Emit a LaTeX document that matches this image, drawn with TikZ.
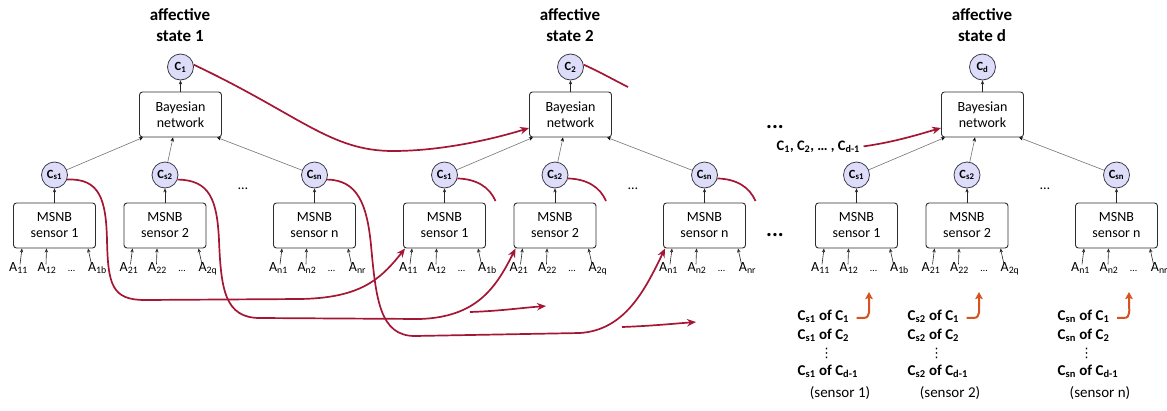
\documentclass[tikz,border=0pt]{standalone}
\usepackage{fontspec}
\setmainfont{Carlito}
\newfontfamily\symfont{DejaVu Sans}
\usetikzlibrary{arrows.meta,calc}
\definecolor{crim}{RGB}{165,22,52}
\definecolor{orng}{RGB}{214,82,30}
\definecolor{lav}{RGB}{221,221,250}
\definecolor{rimc}{RGB}{60,60,72}
\definecolor{edgec}{RGB}{45,45,45}
\definecolor{linkc}{RGB}{115,115,115}
\newcommand{\lowidx}[1]{\textsubscript{#1}}
\begin{document}
\begin{tikzpicture}[x=1pt,y=-1pt,
  ttl/.style={font=\bfseries\fontsize{17}{20}\selectfont, anchor=base, inner sep=0pt},
  cnode/.style={circle, draw=rimc, fill=lav, line width=0.8pt, minimum size=26pt,
    inner sep=0pt, font=\bfseries\fontsize{12.5}{14}\selectfont},
  stbox/.style={draw=edgec, line width=0.9pt, rounded corners=3pt, minimum width=82pt,
    minimum height=45pt, align=center, inner sep=1pt, font=\fontsize{14}{16}\selectfont},
  alab/.style={anchor=base, inner sep=0.5pt, font=\fontsize{14}{16}\selectfont},
  adots/.style={anchor=base, inner sep=0pt, font=\fontsize{10}{12}\selectfont},
  sdots/.style={anchor=base, inner sep=0pt, font=\fontsize{14}{16}\selectfont},
  bigdots/.style={anchor=base, inner sep=0pt, font=\bfseries\fontsize{22}{22}\selectfont},
  btext/.style={anchor=base west, inner sep=0.5pt, font=\bfseries\fontsize{15}{17}\selectfont},
  ptext/.style={anchor=base, inner sep=0.5pt, font=\fontsize{15}{17}\selectfont},
  vd/.style={anchor=base, inner sep=0pt, font=\symfont\fontsize{13}{15}\selectfont},
  thinarr/.style={draw=black!85, line width=0.6pt, -{Stealth[length=4pt,width=3.4pt]}},
  linkarr/.style={draw=linkc, line width=0.6pt, -{Stealth[length=4pt,width=3.4pt,black]}},
  redline/.style={draw=crim, line width=1.7pt},
  redarr/.style={redline, -{Stealth[length=9pt,width=7.5pt]}},
  orarr/.style={draw=orng, line width=2pt, -{Stealth[length=7pt,width=7.5pt,inset=1.2pt]}}
]
\useasboundingbox (0,0) rectangle (1167,410);

% three copies of the network: affective states 1, 2 and d
\foreach \g/\ox/\cl in {1/0/1,2/390/2,3/802/d}{
  \node[ttl] (ta\g) at (180+\ox,20) {affective};
  \node[ttl] (tb\g) at (180+\ox,41) {state \cl};
  \node[cnode] (c\g) at (180.5+\ox,67) {C\lowidx{\cl}};
  \node[stbox] (bn\g) at (180.5+\ox,114.5) {Bayesian\\network};
  \draw[thinarr] (bn\g) -- (c\g);
  \node[sdots] (sd\g) at (243+\ox,189) {…};
  \foreach \k/\sx/\ia/\ib/\ic/\lx in {1/54.5/11/12/1b/-37.5, 2/165/21/22/2q/-7.5, n/314.5/n1/n2/nr/36.5}{
    \node[stbox] (s\g\k) at (\sx+\ox,225.5) {MSNB\\sensor \k};
    \node[cnode] (cs\g\k) at (\sx+\ox,175) {C\lowidx{s\k}};
    \draw[thinarr] (s\g\k) -- (cs\g\k);
    \draw[linkarr] (cs\g\k) -- ([xshift=\lx*1pt]bn\g.south);
    % attribute inputs of the sensor classifier
    \node[alab] (a\g\k-1) at (\sx+\ox-36,271) {A\lowidx{\ia}};
    \node[alab] (a\g\k-2) at (\sx+\ox-7.5,271) {A\lowidx{\ib}};
    \node[adots] (a\g\k-d) at (\sx+\ox+17,271) {…};
    \node[alab] (a\g\k-3) at (\sx+\ox+43,271) {A\lowidx{\ic}};
    \draw[thinarr] ([xshift=1.5pt,yshift=-3pt]a\g\k-1.north) -- ([xshift=-32.5pt]s\g\k.south);
    \draw[thinarr] ([xshift=-1pt,yshift=-3pt]a\g\k-2.north) -- ([xshift=-8pt]s\g\k.south);
    \draw[thinarr] ([xshift=-6pt,yshift=-3pt]a\g\k-3.north) -- ([xshift=33.5pt]s\g\k.south);
  }
}

% state 1 feeds the Bayesian network of state 2
\draw[redarr] (c1.10) .. controls (300,115) and (330,151) .. (393,151)
  .. controls (440,151) and (490,140) .. ([yshift=-13.5pt]bn2.west);
\coordinate (c2tail) at (628,87);
\draw[redline] (c2.10) .. controls (600,72) and (614,80) .. (c2tail);

% sensor outputs of state 1 feed the sensors of state 2
\draw[redarr] (cs11.-20) .. controls (100,178) and (106,200) .. (107,240)
  .. controls (108,285) and (112,300) .. (145,300) -- (300,299)
  .. controls (360,298) and (380,280) .. ([xshift=2pt]s21.south west);
\draw[redarr] (cs12.-20) .. controls (210,180) and (217,200) .. (219,240)
  .. controls (221,290) and (225,318) .. (260,318) -- (420,319)
  .. controls (475,317) and (495,290) .. ([xshift=2pt]s22.south west);
\draw[redarr] (cs1n.-20) .. controls (358,180) and (367,205) .. (371,245)
  .. controls (376,300) and (380,336) .. (415,336) -- (580,333)
  .. controls (625,330) and (645,290) .. ([xshift=2pt]s2n.south west);

% sensor outputs of state 2 continue onwards
\foreach \k in {1,2,n}{
  \coordinate (tail\k) at ($(cs2\k)+(51,26)$);
  \draw[redline] (cs2\k.-15) .. controls ($(cs2\k)+(32,4)$) and ($(cs2\k)+(45,12)$) .. (tail\k);
}
\coordinate (r1a) at (470,312);
\coordinate (r1b) at (546,306);
\draw[redarr] (r1a) .. controls (500,311) and (520,308) .. (r1b);
\coordinate (r2a) at (622,327);
\coordinate (r2b) at (696,322);
\draw[redarr] (r2a) .. controls (650,326) and (670,324) .. (r2b);

% earlier states feed the network of state d
\node[bigdots] (dotsA) at (775,128) {...};
\node[bigdots] (dotsB) at (775,236) {...};
\node[btext, font=\bfseries\fontsize{14.5}{16}\selectfont] (cprev) at (776,150)
  {C\lowidx{1}, C\lowidx{2}, … , C\lowidx{d-1}};
\draw[redarr] ([xshift=3pt]cprev.east) .. controls (895,142) and (920,134) .. ([yshift=-13.5pt]bn3.west);

% stored sensor outputs for state d
\foreach \k/\tx in {1/797,2/907,n/1057}{
  \node[btext] (o\k-a) at (\tx,320) {C\lowidx{s\k} of C\lowidx{1}};
  \node[btext] (o\k-b) at (\tx,339) {C\lowidx{s\k} of C\lowidx{2}};
  \node[vd] (o\k-c) at (\tx+29.5,357) {⋮};
  \node[btext] (o\k-d) at (\tx,375) {C\lowidx{s\k} of C\lowidx{d-1}};
  \node[ptext] (o\k-e) at (\tx+43,397) {(sensor \k)};
  \coordinate (st\k) at ([xshift=7pt,yshift=-2pt]o\k-a.east);
  \coordinate (up\k) at (\tx+72,292);
  \draw[orarr] (st\k) -- ($(st\k)+(7,0)$) .. controls ($(st\k)+(14,0)$) and ($(up\k)+(0,18)$)
    .. ($(up\k)+(0,9)$) -- (up\k);
}
\end{tikzpicture}
\end{document}
